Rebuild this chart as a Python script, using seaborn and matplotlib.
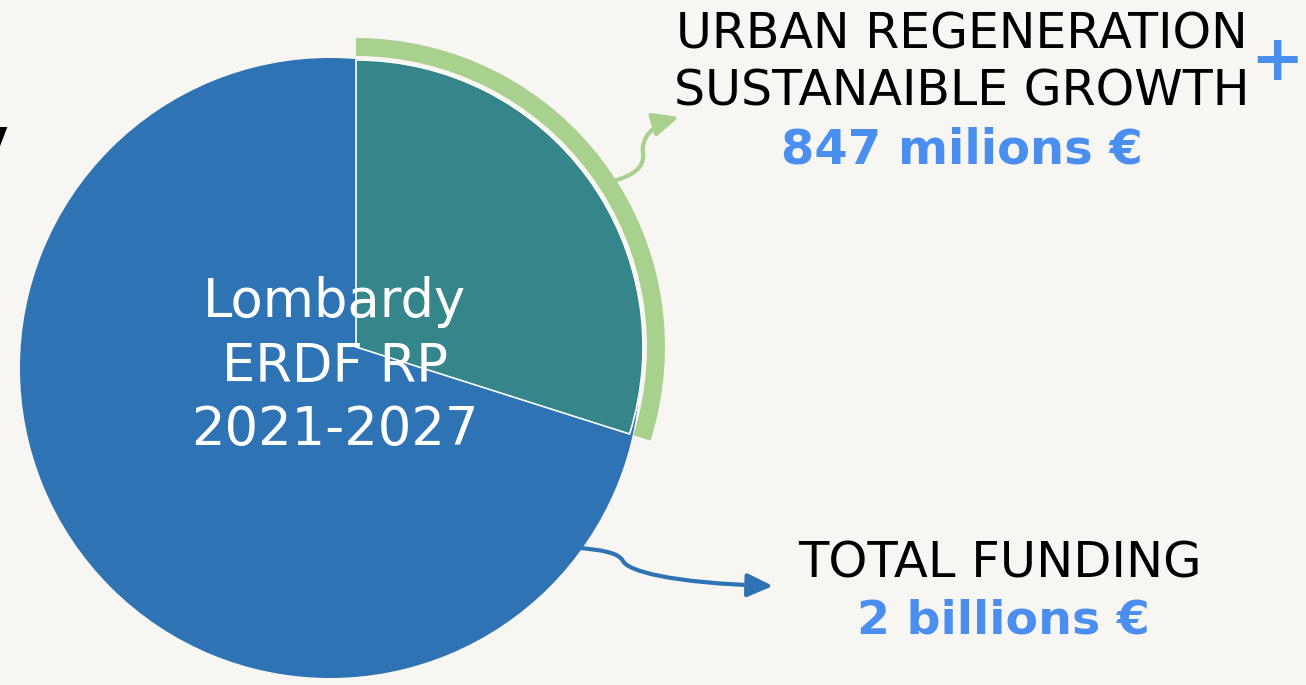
"""
Lombardy ERDF RP 2021-2027 - share of funding for urban regeneration.
"""

import matplotlib
matplotlib.use('Agg')
import matplotlib.pyplot as plt
import seaborn as sns
from matplotlib.patches import FancyArrowPatch
from matplotlib.path import Path

# data
total_share = [1.0]                      # the whole disc = total funding
slice_shares = [0.299, 0.701]            # urban regeneration slice vs the rest
center_lines = ['Lombardy', 'ERDF RP', '2021-2027']
urban_lines = ['URBAN REGENERATION', 'SUSTANAIBLE GROWTH']
urban_amount = '847 milions €'
total_lines = ['TOTAL FUNDING']
total_amount = '2 billions €'

BG = '#F7F6F2'
BLUE = '#2E74B5'
TEAL = '#35868B'
GREEN = '#A9D18E'
TEXT_BLUE = '#4A8FEF'

W, H = 1306, 685

sns.set_style('white', {'axes.facecolor': BG, 'figure.facecolor': BG})
plt.rcParams['font.family'] = ['DejaVu Sans']

fig = plt.figure(figsize=(W / 100, H / 100), dpi=100)
ax = fig.add_axes([0, 0, 1, 1])


def Y(y):
    # picture rows run downwards, axes run upwards
    return H - y


# total funding disc
ax.pie(total_share, colors=[BLUE], radius=310, center=(330, Y(368)),
       startangle=90, counterclock=False, wedgeprops={'linewidth': 0})

# urban regeneration slice
teal, rest = ax.pie(slice_shares, colors=[TEAL, 'none'], radius=287,
                    center=(356, Y(347)), startangle=90, counterclock=False,
                    wedgeprops={'edgecolor': 'white', 'linewidth': 1.2})[0]
rest.set_visible(False)

# green highlight band around the slice
band, band_rest = ax.pie(slice_shares, colors=[GREEN, 'none'], radius=309,
                         center=(356, Y(347)), startangle=90, counterclock=False,
                         wedgeprops={'width': 18, 'linewidth': 0})[0]
band_rest.set_visible(False)

# text in the pie
for line, base in zip(center_lines, [317, 382, 445]):
    ax.text(335, Y(base), line, ha='center', va='baseline',
            fontsize=38, color='white')

# labels on the right
for line, base in zip(urban_lines, [48, 105]):
    ax.text(962, Y(base), line, ha='center', va='baseline', fontsize=35.3, color='black')
ax.text(962, Y(163), urban_amount, ha='center', va='baseline', fontsize=34.6,
        fontweight='bold', color=TEXT_BLUE)
ax.text(1277, Y(80), '+', ha='center', va='baseline', fontsize=46,
        fontweight='bold', color=TEXT_BLUE)

for line, base in zip(total_lines, [577]):
    ax.text(1000, Y(base), line, ha='center', va='baseline', fontsize=35.7, color='black')
ax.text(1003, Y(634), total_amount, ha='center', va='baseline', fontsize=34.2,
        fontweight='bold', color=TEXT_BLUE)

# cut-off letter at the left edge
ax.text(8, Y(150), 'y', ha='right', va='baseline', fontsize=30,
        fontweight='bold', color='black')

# curved pointer arrows
C4 = Path.CURVE4
green_path = Path([(613, Y(181)), (632, Y(176)), (645, Y(168)), (643, Y(153)),
                   (641, Y(138)), (652, Y(125)), (679, Y(117))],
                  [Path.MOVETO, C4, C4, C4, C4, C4, C4])
blue_path = Path([(580, Y(548)), (600, Y(550)), (618, Y(552)), (623, Y(561)),
                  (628, Y(571)), (670, Y(583)), (773, Y(586))],
                 [Path.MOVETO, C4, C4, C4, C4, C4, C4])
for path, col in [(green_path, GREEN), (blue_path, BLUE)]:
    arrow = FancyArrowPatch(path=path, arrowstyle='-|>,head_length=1.2,head_width=0.55',
                            mutation_scale=13, color=col, lw=3,
                            shrinkA=0, shrinkB=0)
    ax.add_patch(arrow)

ax.set_xlim(0, W)
ax.set_ylim(0, H)
ax.set_aspect('equal')
ax.axis('off')

fig.savefig('out.png', dpi=100, facecolor=BG)
